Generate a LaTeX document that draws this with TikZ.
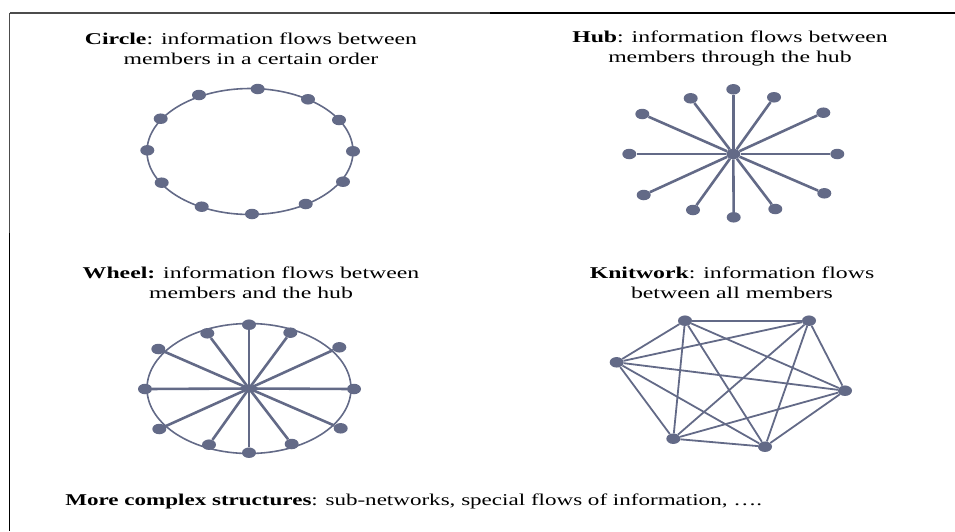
\documentclass[tikz,border=0pt]{standalone}
\usepackage{fontspec}
\setmainfont{Liberation Serif}
\usetikzlibrary{shapes.geometric}
\definecolor{netblue}{RGB}{99,106,135}
\tikzset{member/.style={ellipse,fill=netblue,minimum width=14pt,minimum height=10.5pt,inner sep=0pt}}
\tikzset{spoke/.style={netblue,line width=2.6pt}}
\tikzset{ring/.style={netblue,line width=1.6pt}}
\tikzset{link/.style={netblue,line width=1.8pt}}
\tikzset{title/.style={align=center,inner sep=0pt,font=\fontsize{16.5}{20.4}\selectfont,xscale=1.44}}

\begin{document}
\begin{tikzpicture}[x=1pt,y=-1pt]
    \useasboundingbox (0,0) rectangle (955,531);
    % frame
    \draw[gray!60!black,line width=1.6pt] (9.5,13) -- (490,13);
    \draw[line width=1.6pt] (490,13) -- (955,13);
    \draw[gray!60!black,line width=1.6pt] (9.5,13) -- (9.5,233);
    \draw[line width=1.6pt] (9.5,233) -- (9.5,531);
    % titles
    \node[title] (circletitle) at (251,48.5) {\textbf{Circle}: information flows between\\members in a certain order};
    \node[title] (hubtitle) at (730,48.5) {\textbf{Hub}: information flows between\\members through the hub};
    \node[title] (wheeltitle) at (251,282.5) {\textbf{Wheel:} information flows between\\members and the hub};
    \node[title] (knittitle) at (732,282.5) {\textbf{Knitwork}: information flows\\between all members};
    \node[title,xscale=0.97,anchor=base west] (moretitle) at (65,505) {\textbf{More complex structures}: sub-networks, special flows of information, ….};
    % circle
    \coordinate (cc) at (250,151.5);
    \draw[ring] (cc) ellipse [x radius=103,y radius=63];
    \foreach \x/\y [count=\i] in {257.7/89,308/99.3,339/120,353/151.3,343/181.7,305.7/204,252/214,201.7/206.7,161.7/182.7,147.3/150.3,160.7/118.7,199/95}
        \node[member] (c\i) at (\x,\y) {};
    % hub
    \node[member] (hub) at (733.3,154) {};
    \foreach \x/\y [count=\i] in {733.3/89.3,774/97.3,823.3/112.7,837.3/154,824.3/193.3,775.3/209,733.7/217.3,693/210,643.7/195,629.3/154,642.3/114,690.7/98.3} {
        \node[member] (h\i) at (\x,\y) {};
        \draw[spoke] (hub) -- (h\i);
    }
    % wheel
    \coordinate (wc) at (249,388.5);
    \draw[ring] (wc) ellipse [x radius=102,y radius=65];
    \foreach \x/\y [count=\i] in {249/324.7,290.3/332.7,339.3/347.3,354/389,340.7/428.3,291.7/444,249/452.7,209/444.7,159.3/429,145/389,158.3/349,207.3/333.3} {
        \node[member] (w\i) at (\x,\y) {};
        \draw[spoke] (wc) -- (w\i);
    }
    % knitwork
    \foreach \x/\y [count=\i] in {685/320.7,809/320.7,845/390.7,765/446.7,673.3/438.7,616.7/362.3}
        \node[member] (k\i) at (\x,\y) {};
    \foreach \i [evaluate=\i as \n using int(\i+1)] in {1,...,5}
        \foreach \j in {\n,...,6}
            \draw[link] (k\i) -- (k\j);
\end{tikzpicture}
\end{document}
